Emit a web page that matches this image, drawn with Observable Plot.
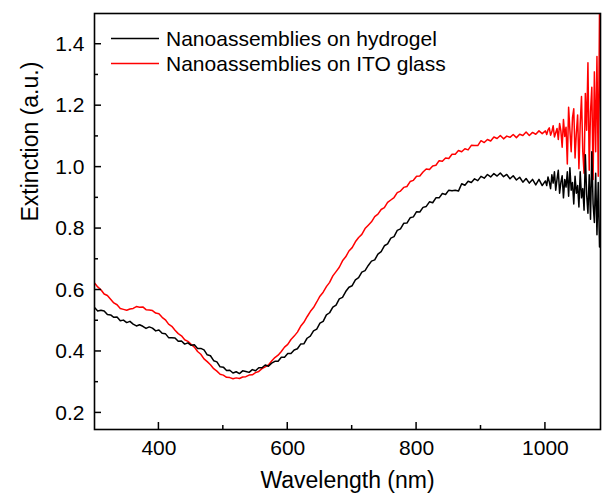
<!DOCTYPE html>
<html>
<head>
<meta charset="utf-8">
<script src="https://cdn.jsdelivr.net/npm/d3@7"></script>
<script src="https://cdn.jsdelivr.net/npm/@observablehq/plot@0.6"></script>
<style>
  html, body { margin: 0; padding: 0; background: #fff; }
  #chart { width: 603px; height: 497px; }
</style>
</head>
<body>
<div id="chart"></div>
<script>
// Sampling grid of the spectra (nm)
const bodyStart = 300, bodyStep = 5;   // 300 … 995
const tailStart = 1000, tailStep = 2;  // 1000 … 1086

// Nanoassemblies on ITO glass (red)
const redBody = [
  0.623,0.610,0.601,0.587,0.582,0.570,0.558,0.552,0.540,0.537,
  0.534,0.538,0.540,0.546,0.544,0.545,0.536,0.535,0.533,0.525,
  0.523,0.511,0.503,0.489,0.482,0.469,0.458,0.451,0.438,0.433,
  0.423,0.414,0.400,0.391,0.376,0.367,0.357,0.344,0.336,0.326,
  0.323,0.316,0.315,0.311,0.314,0.312,0.317,0.318,0.323,0.324,
  0.331,0.335,0.344,0.350,0.356,0.369,0.380,0.388,0.400,0.414,
  0.423,0.439,0.450,0.463,0.482,0.495,0.513,0.530,0.543,0.561,
  0.580,0.593,0.611,0.625,0.646,0.660,0.674,0.695,0.708,0.727,
  0.738,0.757,0.771,0.781,0.800,0.811,0.822,0.839,0.847,0.862,
  0.868,0.885,0.893,0.901,0.917,0.922,0.934,0.937,0.953,0.957,
  0.970,0.971,0.984,0.994,0.992,1.004,1.006,1.021,1.019,1.030,
  1.028,1.042,1.042,1.054,1.050,1.060,1.056,1.071,1.070,1.070,
  1.086,1.080,1.090,1.085,1.098,1.093,1.103,1.092,1.101,1.097,
  1.106,1.096,1.107,1.103,1.114,1.103,1.113,1.107,1.118,1.109
];
const redTail = [
  1.118,1.106,1.121,1.128,1.104,1.115,1.135,1.098,1.112,1.126,
  1.090,1.142,1.118,1.065,1.155,1.100,1.130,1.010,1.195,1.120,
  1.050,1.160,1.190,1.030,1.110,1.170,0.995,1.140,1.230,1.050,
  0.980,1.240,1.120,1.340,0.990,1.180,1.260,0.960,1.310,1.050,
  1.360,0.970,1.520,1.060
];

// Nanoassemblies on hydrogel (black)
const blackBody = [
  0.543,0.532,0.534,0.532,0.520,0.519,0.511,0.512,0.500,0.502,
  0.494,0.498,0.489,0.483,0.487,0.482,0.475,0.480,0.476,0.467,
  0.470,0.459,0.458,0.445,0.445,0.444,0.433,0.434,0.424,0.428,
  0.420,0.422,0.410,0.410,0.405,0.389,0.386,0.370,0.366,0.350,
  0.349,0.338,0.339,0.330,0.334,0.328,0.337,0.335,0.332,0.341,
  0.337,0.347,0.347,0.356,0.352,0.362,0.368,0.368,0.381,0.381,
  0.393,0.393,0.405,0.409,0.424,0.425,0.443,0.450,0.467,0.473,
  0.492,0.498,0.519,0.526,0.544,0.551,0.571,0.576,0.595,0.609,
  0.614,0.633,0.640,0.658,0.663,0.680,0.694,0.698,0.717,0.725,
  0.744,0.750,0.769,0.774,0.794,0.799,0.817,0.818,0.835,0.838,
  0.855,0.854,0.869,0.872,0.887,0.884,0.900,0.900,0.914,0.911,
  0.925,0.923,0.925,0.922,0.946,0.941,0.954,0.950,0.962,0.956,
  0.970,0.964,0.976,0.968,0.979,0.971,0.981,0.969,0.976,0.962,
  0.972,0.958,0.967,0.951,0.963,0.948,0.960,0.942,0.960,0.940
];
const blackTail = [
  0.955,0.940,0.968,0.952,0.930,0.975,0.948,0.985,0.925,0.960,
  0.990,0.915,0.950,0.972,0.900,0.960,0.935,0.985,0.905,0.998,
  0.925,0.950,0.880,0.970,0.915,0.940,0.870,0.985,0.900,0.930,
  0.860,1.040,0.910,0.850,0.975,0.830,1.050,0.880,0.820,0.980,
  0.780,0.950,0.740,0.760
];

const seriesNames = ["Nanoassemblies on hydrogel", "Nanoassemblies on ITO glass"];
const seriesColors = ["#000000", "#ff0000"];

const xTicks = [400, 600, 800, 1000];
const xMinorTicks = [500, 700, 900];
const yTicks = [0.2, 0.4, 0.6, 0.8, 1.0, 1.2, 1.4];
const yMinorTicks = [0.3, 0.5, 0.7, 0.9, 1.1, 1.3];
const xLabel = "Wavelength (nm)";
const yLabel = "Extinction (a.u.)";

function toRows(body, tail) {
  const rows = body.map((v, i) => ({wl: bodyStart + i * bodyStep, v}));
  tail.forEach((v, i) => rows.push({wl: tailStart + i * tailStep, v}));
  return rows;
}
const blackRows = toRows(blackBody, blackTail);
const redRows = toRows(redBody, redTail);

const font = "'Liberation Sans', Arial, Helvetica, sans-serif";

const plot = Plot.plot({
  width: 603,
  height: 497,
  marginLeft: 94,
  marginTop: 13,
  marginRight: 3,
  marginBottom: 68,
  style: {fontFamily: font, fontSize: "21px", color: "#000", background: "#fff"},
  x: {domain: [300, 1085.5]},
  y: {domain: [0.146, 1.5]},
  marks: [
    Plot.line(redRows, {x: "wl", y: "v", stroke: seriesColors[1], strokeWidth: 1.5, clip: true}),
    Plot.line(blackRows, {x: "wl", y: "v", stroke: seriesColors[0], strokeWidth: 1.5, clip: true}),
    Plot.frame({stroke: "#000", strokeWidth: 1.6}),
    Plot.axisX(xTicks, {tickSize: 0, tickPadding: 11, label: null, fontSize: 21, tickFormat: d => String(d)}),
    Plot.axisY(yTicks, {tickSize: 0, tickPadding: 10, label: null, fontSize: 21, tickFormat: d => d.toFixed(1)}),
    Plot.text([xLabel], {frameAnchor: "bottom", text: d => d, dy: 51, lineAnchor: "middle", fontSize: 23}),
    Plot.text([yLabel], {frameAnchor: "left", text: d => d, dx: -64, rotate: -90, lineAnchor: "middle", fontSize: 23})
  ]
});

const svg = d3.select(plot);
const sx = plot.scale("x"), sy = plot.scale("y");
const [yBottom] = sy.range;          // pixel of the bottom frame
const [xLeft] = sx.range;            // pixel of the left frame

// Inward ticks on the bottom and left axes
const tickG = svg.append("g").attr("stroke", "#000").attr("stroke-width", 1.5);
[[xTicks, 7], [xMinorTicks, 4]].forEach(([ticks, len]) => {
  ticks.forEach(t => {
    const px = sx.apply(t);
    tickG.append("line").attr("x1", px).attr("x2", px).attr("y1", yBottom).attr("y2", yBottom - len);
  });
});
[[yTicks, 7], [yMinorTicks, 4]].forEach(([ticks, len]) => {
  ticks.forEach(t => {
    const py = sy.apply(t);
    tickG.append("line").attr("x1", xLeft).attr("x2", xLeft + len).attr("y1", py).attr("y2", py);
  });
});

// In-plot legend
seriesNames.forEach((name, i) => {
  const y = 38.5 + i * 25;
  svg.append("line")
    .attr("x1", 111).attr("x2", 159).attr("y1", y).attr("y2", y)
    .attr("stroke", seriesColors[i]).attr("stroke-width", 1.6);
  svg.append("text")
    .attr("x", 166).attr("y", y).attr("dy", "0.36em")
    .attr("text-anchor", "start")
    .attr("font-family", font).attr("font-size", 21).attr("fill", "#000")
    .text(name);
});

document.getElementById("chart").appendChild(plot);
</script>
</body>
</html>
